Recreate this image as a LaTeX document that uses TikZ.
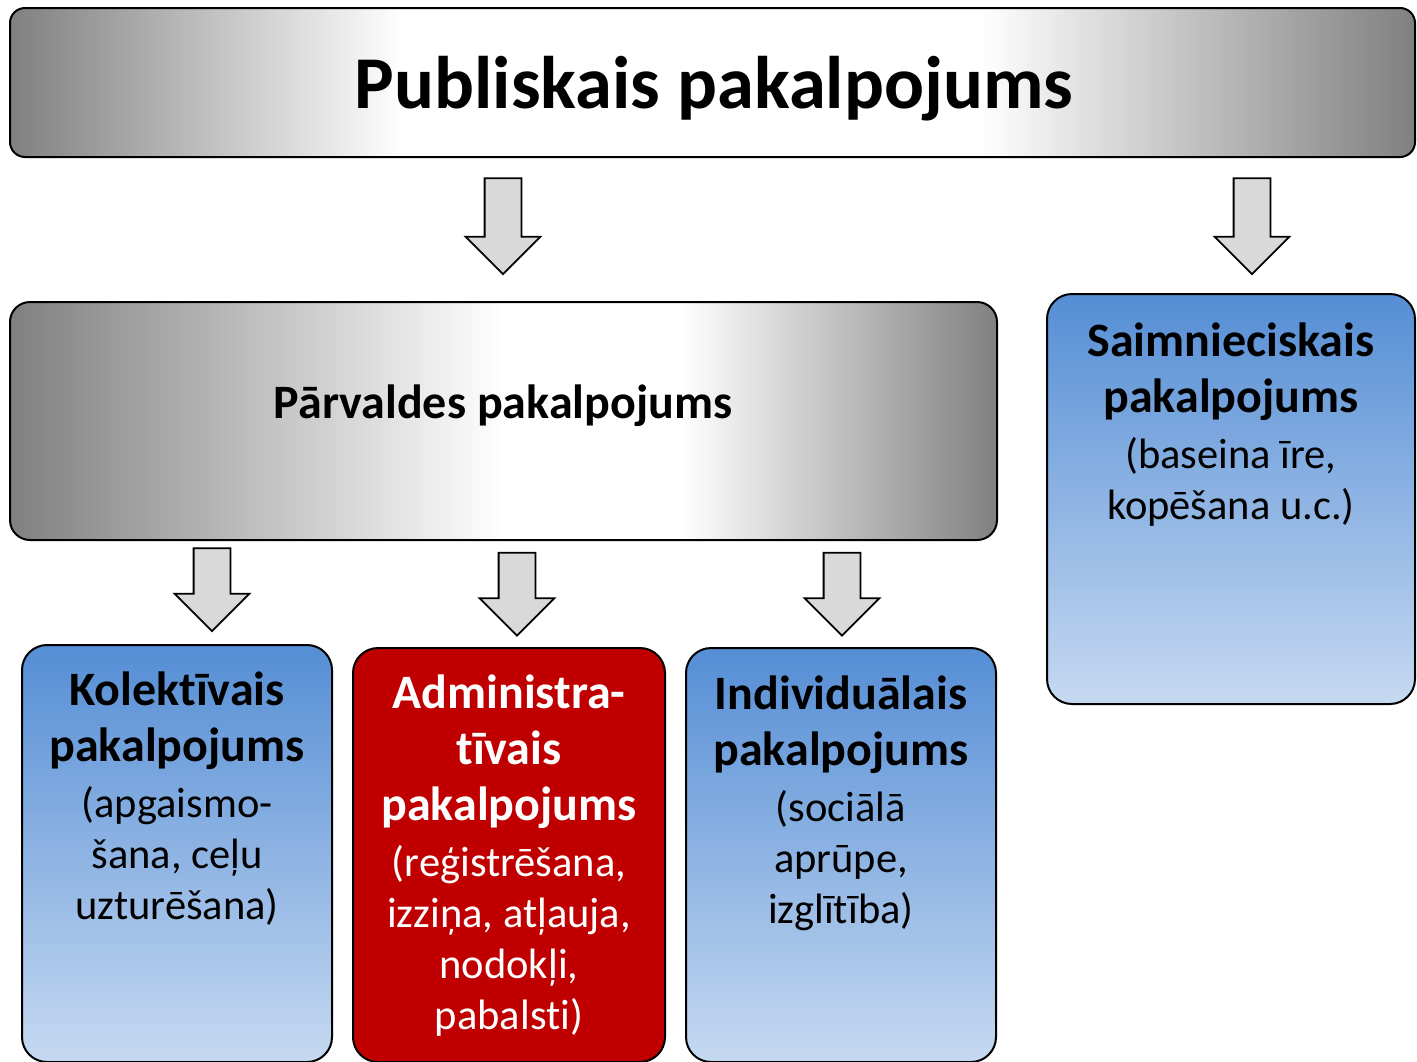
\documentclass[tikz,border=0pt]{standalone}
\usepackage{fontspec}
\setmainfont{Carlito}[Ligatures=NoCommon]
\usetikzlibrary{shapes.arrows}

\definecolor{boxgray}{RGB}{128,128,128}
\definecolor{arrowgray}{RGB}{217,217,217}
\definecolor{bluetop}{RGB}{85,142,213}
\definecolor{bluebot}{RGB}{198,217,241}
\definecolor{adminred}{RGB}{192,0,0}

\pgfdeclarehorizontalshading{publshade}{100bp}{color(0bp)=(boxgray); color(25bp)=(boxgray);
  color(39bp)=(white); color(59.5bp)=(white); color(75bp)=(boxgray); color(100bp)=(boxgray)}
\pgfdeclarehorizontalshading{parvshade}{100bp}{color(0bp)=(boxgray); color(25bp)=(boxgray);
  color(50bp)=(white); color(59bp)=(white); color(75bp)=(boxgray); color(100bp)=(boxgray)}

\newcommand{\boxhead}[1]{{\fontsize{48}{58}\selectfont\bfseries #1}}

\tikzset{
  box/.style={draw, line width=2pt, rounded corners=25pt, inner sep=0pt},
  bluebox/.style={box, top color=bluetop, bottom color=bluebot},
  boxtext/.style={align=center, anchor=north, inner sep=0pt, font=\fontsize{42.5}{51}\selectfont},
  downarrow/.style={single arrow, draw, fill=arrowgray, line width=1.8pt, rotate=-90,
    minimum width=73pt, single arrow head extend=19pt, inner sep=17.5pt},
}

\begin{document}
\begin{tikzpicture}[x=1pt,y=-1pt]
\useasboundingbox (0,0) rectangle (1417,1061);
\clip (0,0) rectangle (1417,1061);

% boxes
\node[box, rounded corners=15pt, shading=publshade, minimum width=1405pt, minimum height=149pt] (publ) at (712.5,82.5) {};
\node[box, rounded corners=20pt, shading=parvshade, minimum width=987pt, minimum height=238pt] (parv) at (503.5,421) {};
\node[bluebox, minimum width=368pt, minimum height=410pt] (saimn) at (1231,499) {};
\node[bluebox, minimum width=310pt, minimum height=417pt] (kolekt) at (177,853.5) {};
\node[box, fill=adminred, minimum width=312pt, minimum height=414pt] (admin) at (509,855) {};
\node[bluebox, minimum width=310pt, minimum height=414pt] (indiv) at (841,855) {};

% texts
\node[font=\fontsize{74.5}{89}\selectfont\bfseries] (publtext) at (714,88.5) {Publiskais pakalpojums};
\node[font=\fontsize{48}{58}\selectfont\bfseries] (parvtext) at (503,406) {Pārvaldes pakalpojums};
\node[boxtext] (saimntext) at ([yshift=-30pt]saimn.north) {\boxhead{Saimnieciskais}\\[5pt] \boxhead{pakalpojums}\\[5pt] (baseina īre,\\ kopēšana u.c.)};
\node[boxtext] (kolekttext) at ([yshift=-28pt]kolekt.north) {\boxhead{Kolektīvais}\\[5pt] \boxhead{pakalpojums}\\[5pt] (apgaismo-\\ šana, ceļu\\ uzturēšana)};
\node[boxtext, text=white] (admintext) at ([yshift=-28pt]admin.north) {\boxhead{Administra-}\\[5pt] \boxhead{tīvais}\\[5pt] \boxhead{pakalpojums}\\[5pt] (reģistrēšana,\\ izziņa, atļauja,\\ nodokļi,\\ pabalsti)};
\node[boxtext] (indivtext) at ([yshift=-29pt]indiv.north) {\boxhead{Individuālais}\\[5pt] \boxhead{pakalpojums}\\[5pt] (sociālā\\ aprūpe,\\ izglītība)};

% arrows
\node[downarrow, minimum height=96pt] (arrparv) at (503,217) {};
\node[downarrow, minimum height=96pt] (arrsaimn) at (1252,217) {};
\node[downarrow, minimum height=83pt] (arrkolekt) at (212,580.5) {};
\node[downarrow, minimum height=83pt] (arradmin) at (517,585) {};
\node[downarrow, minimum height=83pt] (arrindiv) at (842,585) {};
\end{tikzpicture}
\end{document}
